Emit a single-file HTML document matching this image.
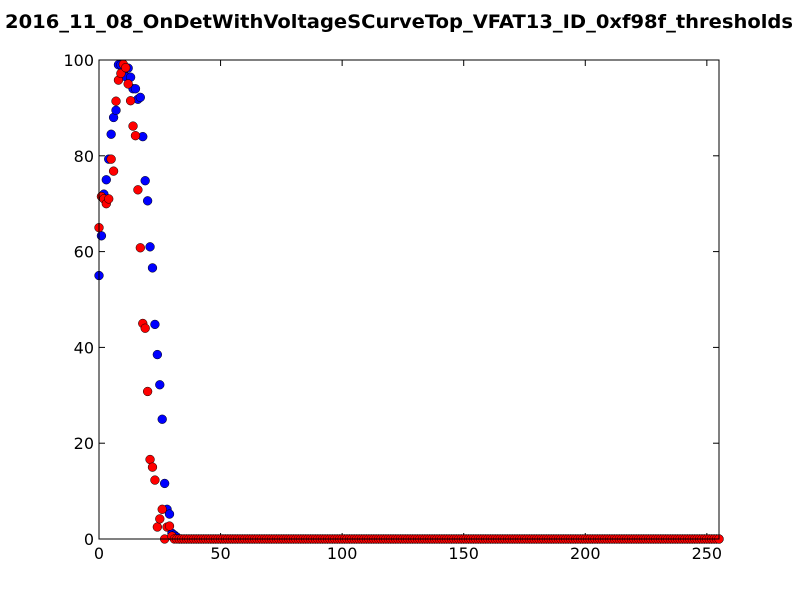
<!DOCTYPE html>
<html><head><meta charset="utf-8"><style>body{margin:0;background:#fff}svg{display:block}</style></head>
<body>
<svg id="chart" width="800" height="600" xmlns="http://www.w3.org/2000/svg" font-family="DejaVu Sans, Liberation Sans, sans-serif">
<rect width="800" height="600" fill="#fff"/>
<text x="399" y="28" text-anchor="middle" font-weight="bold" font-size="19" textLength="788" lengthAdjust="spacingAndGlyphs">2016_11_08_OnDetWithVoltageSCurveTop_VFAT13_ID_0xf98f_thresholds</text>
<g id="axes"></g>
<g id="marks"></g>
<rect x="99" y="60" width="620" height="479" fill="none" stroke="#000" stroke-width="1"/>
</svg>
<script>
const blueHead = [55,63.3,72,75,79.3,84.5,88,89.5,99,99,97.5,96.5,98.3,96.4,94,94,91.8,92.2,84,74.8,70.6,61,56.6,44.8,38.5,32.2,25,11.6,6.2,5.2,1.2,0.8,0.4];
const redHead = [65,71.5,71,70,71,79.3,76.8,91.4,95.8,97.2,99.1,98.4,95,91.5,86.2,84.2,72.9,60.8,45,44,30.8,16.6,15,12.3,2.5,4.2,6.2,0,2.5,2.7,0.6];
const xTicks = [0,50,100,150,200,250];
const yTicks = [0,20,40,60,80,100];
const nPoints = 256;

const X0=99,X1=719,Y0=539,Y1=60;
const xs = v => X0 + (v/255)*(X1-X0);
const ys = v => Y0 - (v/100)*(Y0-Y1);
const NS="http://www.w3.org/2000/svg";
const axes=document.getElementById('axes'), marks=document.getElementById('marks');
function mk(tag,attrs,parent){const e=document.createElementNS(NS,tag);for(const k in attrs)e.setAttribute(k,attrs[k]);parent.appendChild(e);return e;}

xTicks.forEach(t=>{
  const x=xs(t);
  const a=mk('line',{x1:x,x2:x,y1:Y0,y2:Y0-6,stroke:'#000'},axes);
  
  
  const b=mk('line',{x1:x,x2:x,y1:Y1,y2:Y1+6,stroke:'#000'},axes);
  
  
  const l=mk('text',{x:x,y:Y0+20,'text-anchor':'middle','font-size':'16'},axes);
  l.textContent=t;
  
  
});
yTicks.forEach(t=>{
  const y=ys(t);
  const a=mk('line',{x1:X0,x2:X0+6,y1:y,y2:y,stroke:'#000'},axes);
  
  
  const b=mk('line',{x1:X1,x2:X1-6,y1:y,y2:y,stroke:'#000'},axes);
  
  
  const l=mk('text',{x:X0-5,y:y+6,'text-anchor':'end','font-size':'16'},axes);
  l.textContent=t;
  
  
});

function series(head,color,name){
  for(let i=0;i<nPoints;i++){
    const v = i<head.length ? head[i] : 0;
    const c=mk('circle',{cx:xs(i),cy:ys(v),r:4.4,fill:color,stroke:'#000','stroke-width':0.5},marks);
    
    
  }
}
series(blueHead,'#0000ff','blue-point');
series(redHead,'#ff0000','red-point');
</script>
</body></html>
